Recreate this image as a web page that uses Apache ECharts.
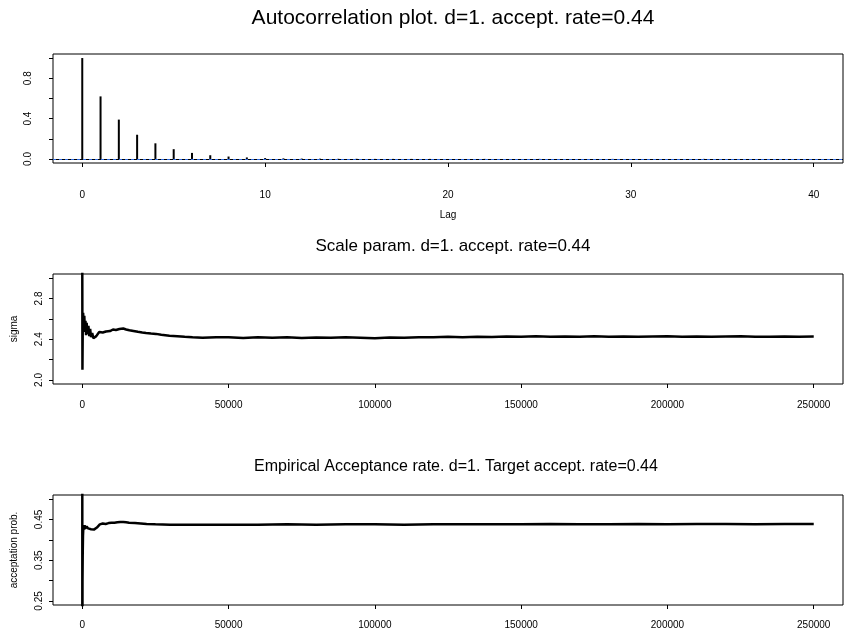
<!DOCTYPE html>
<html lang="en">
<head>
    <meta charset="utf-8">
    <title>MCMC diagnostics</title>
    <script src="https://cdn.jsdelivr.net/npm/echarts@6/dist/echarts.min.js"></script>
    <style>
        html, body { margin: 0; padding: 0; background: #fff; }
        #main { width: 846px; height: 635px; }
    </style>
</head>
<body>
<div id="main"></div>
<script type="text/javascript">
    // autocorrelation (lag 0..40)
    var acfLag = [0, 1, 2, 3, 4, 5, 6, 7, 8, 9, 10, 11, 12, 13, 14, 15, 16, 17, 18, 19, 20,
        21, 22, 23, 24, 25, 26, 27, 28, 29, 30, 31, 32, 33, 34, 35, 36, 37, 38, 39, 40];
    var acfVal = [1.0, 0.62, 0.39, 0.24, 0.155, 0.097, 0.06, 0.037, 0.024, 0.015, 0.009,
        0.006, 0.004, 0.003, 0.002, 0.002, 0.001, 0.001, 0.001, 0.001, 0.0,
        0.0, 0.001, 0.0, 0.0, 0.001, 0.0, 0.0, 0.0, 0.001, 0.0,
        0.0, 0.0, 0.0, 0.001, 0.0, 0.0, 0.0, 0.0, 0.0, 0.0];
    var acfCI = 0.004;

    // scale parameter trace
    var sigmaIter = [0, 60, 150, 300, 500, 700, 900, 1100, 1300, 1500, 1800, 2100, 2400, 2700,
        3000, 3400, 3800, 4300, 4800, 5300, 5800, 6400, 7000, 7500, 8100, 8700, 9500, 10500,
        11500, 12700, 14000, 15000, 16100, 17500, 19000, 20500, 21800, 23500, 25200, 27000,
        29800, 32500, 35000, 37700, 41100, 45800, 50000, 55000, 60000, 65000, 70000, 75000,
        80000, 85000, 90000, 95000, 100000, 105000, 110000, 115000, 120000, 125000, 130000,
        135000, 140000, 145000, 150000, 155000, 160000, 165000, 170000, 175000, 180000,
        185000, 190000, 195000, 200000, 205000, 210000, 215000, 220000, 225000, 230000,
        235000, 240000, 245000, 250000];
    var sigmaVal = [3.3, 2.1, 2.45, 2.66, 2.52, 2.63, 2.47, 2.58, 2.44, 2.56, 2.45, 2.53,
        2.43, 2.5, 2.42, 2.46, 2.41, 2.4, 2.43, 2.45, 2.47, 2.48, 2.465, 2.46, 2.475, 2.49,
        2.48, 2.495, 2.49, 2.5, 2.505, 2.495, 2.487, 2.48, 2.472, 2.465, 2.46, 2.455, 2.452,
        2.443, 2.433, 2.43, 2.425, 2.42, 2.415, 2.42, 2.418, 2.412, 2.42, 2.415, 2.418, 2.412,
        2.416, 2.414, 2.419, 2.415, 2.41, 2.416, 2.414, 2.418, 2.42, 2.423, 2.42, 2.425,
        2.422, 2.426, 2.424, 2.428, 2.423, 2.426, 2.425, 2.428, 2.424, 2.427, 2.423, 2.426,
        2.428, 2.425, 2.427, 2.424, 2.426, 2.428, 2.425, 2.424, 2.426, 2.425, 2.426];

    // empirical acceptance rate trace
    var accIter = [0, 30, 80, 150, 250, 400, 600, 800, 1000, 1500, 2000, 2500, 3000, 3500,
        4000, 4500, 5000, 5500, 6000, 7000, 8000, 9000, 10000, 11000, 12000, 13000, 14000,
        15000, 16000, 18000, 20000, 22000, 25000, 30000, 35000, 40000, 50000, 60000, 70000,
        80000, 90000, 100000, 110000, 120000, 130000, 140000, 150000, 160000, 170000,
        180000, 190000, 200000, 210000, 220000, 230000, 240000, 250000];
    var accVal = [1.0, 0.0, 0.3, 0.36, 0.41, 0.435, 0.425, 0.436, 0.428, 0.433, 0.428,
        0.431, 0.426, 0.428, 0.425, 0.427, 0.43, 0.434, 0.438, 0.44, 0.439, 0.441, 0.442,
        0.442, 0.443, 0.444, 0.444, 0.443, 0.442, 0.441, 0.44, 0.439, 0.438, 0.437, 0.437,
        0.437, 0.437, 0.437, 0.438, 0.437, 0.438, 0.438, 0.437, 0.438, 0.438, 0.438, 0.438,
        0.439, 0.438, 0.438, 0.439, 0.438, 0.439, 0.439, 0.438, 0.439, 0.439];

    var lagTicks = [0, 10, 20, 30, 40];
    var iterTicks = [0, 50000, 100000, 150000, 200000, 250000];
    var acfTicks = [0, 0.2, 0.4, 0.6, 0.8, 1.0];
    var acfLabels = [0, 0.4, 0.8];
    var sigmaTicks = [2.0, 2.2, 2.4, 2.6, 2.8, 3.0];
    var sigmaLabels = [2.0, 2.4, 2.8];
    var accTicks = [0.25, 0.3, 0.35, 0.4, 0.45, 0.5];
    var accLabels = [0.25, 0.35, 0.45];

    var FONT = 'Liberation Sans, Arial, sans-serif';

    function zip(xs, ys) {
        return xs.map(function (x, i) { return [x, ys[i]]; });
    }

    function xAxisCfg(idx, min, max, ticks, margin, name) {
        return {
            type: 'value', gridIndex: idx, min: min, max: max,
            name: name || '', nameLocation: 'middle', nameGap: 47,
            nameTextStyle: { fontFamily: FONT, fontSize: 10, color: '#000' },
            splitLine: { show: false },
            axisLine: { show: false, onZero: false },
            axisTick: { show: true, inside: false, length: 4, customValues: ticks,
                lineStyle: { color: '#000', width: 1 } },
            axisLabel: { customValues: ticks, margin: margin, fontFamily: FONT,
                fontSize: 10, color: '#000',
                formatter: function (v) { return String(v); } }
        };
    }

    function yAxisCfg(idx, min, max, ticks, labels, digits, margin, name) {
        return {
            type: 'value', gridIndex: idx, min: min, max: max,
            name: name || '', nameLocation: 'middle', nameGap: 34, nameRotate: 90,
            nameTextStyle: { fontFamily: FONT, fontSize: 10, color: '#000' },
            splitLine: { show: false },
            axisLine: { show: false, onZero: false },
            axisTick: { show: true, inside: false, length: 4, customValues: ticks,
                lineStyle: { color: '#000', width: 1 } },
            axisLabel: { customValues: labels, rotate: 90, margin: margin, fontFamily: FONT,
                fontSize: 10, color: '#000',
                formatter: function (v) { return v.toFixed(digits); } }
        };
    }

    function titleStyle(size) {
        return { fontFamily: FONT, fontSize: size, fontWeight: 'normal', color: '#000' };
    }

    var myChart = echarts.init(document.getElementById('main'));
    var option = {
        animation: false,
        backgroundColor: '#fff',
        title: [
            { text: 'Autocorrelation plot. d=1. accept. rate=0.44', left: 448, top: 3,
                textAlign: 'center', textStyle: titleStyle(21) },
            { text: 'Scale param. d=1. accept. rate=0.44', left: 448, top: 233,
                textAlign: 'center', textStyle: titleStyle(17) },
            { text: 'Empirical Acceptance rate. d=1. Target accept. rate=0.44', left: 451, top: 454,
                textAlign: 'center', textStyle: titleStyle(16) }
        ],
        grid: [
            { left: 53, top: 54, width: 790, height: 109, show: true, borderColor: '#000', borderWidth: 1 },
            { left: 53, top: 274, width: 790, height: 110, show: true, borderColor: '#000', borderWidth: 1 },
            { left: 53, top: 495, width: 790, height: 110, show: true, borderColor: '#000', borderWidth: 1 }
        ],
        xAxis: [
            xAxisCfg(0, -1.6, 41.6, lagTicks, 27, 'Lag'),
            xAxisCfg(1, -10000, 260000, iterTicks, 16),
            xAxisCfg(2, -10000, 260000, iterTicks, 15)
        ],
        yAxis: [
            yAxisCfg(0, -0.04, 1.04, acfTicks, acfLabels, 1, 20),
            yAxisCfg(1, 1.96, 3.04, sigmaTicks, sigmaLabels, 1, 9, 'sigma'),
            yAxisCfg(2, 0.24, 0.51, accTicks, accLabels, 2, 9, 'acceptation prob.')
        ],
        series: [
            {
                type: 'bar', xAxisIndex: 0, yAxisIndex: 0, barWidth: 2, z: 2,
                itemStyle: { color: '#000' },
                data: zip(acfLag, acfVal),
                markLine: {
                    silent: true, symbol: 'none', label: { show: false },
                    data: [
                        { yAxis: 0, lineStyle: { color: '#000', width: 1, type: 'solid' } }
                    ]
                }
            },
            {
                // confidence band lines drawn on top of the zero line
                type: 'line', xAxisIndex: 0, yAxisIndex: 0, z: 5, data: [],
                markLine: {
                    silent: true, symbol: 'none', label: { show: false }, z: 5,
                    data: [
                        { yAxis: acfCI, lineStyle: { color: '#2f6ae0', width: 1, type: [3, 3] } },
                        { yAxis: -acfCI, lineStyle: { color: '#2f6ae0', width: 1, type: [3, 3] } }
                    ]
                }
            },
            {
                type: 'line', xAxisIndex: 1, yAxisIndex: 1, showSymbol: false,
                lineStyle: { color: '#000', width: 2.5 },
                data: zip(sigmaIter, sigmaVal)
            },
            {
                type: 'line', xAxisIndex: 2, yAxisIndex: 2, showSymbol: false,
                lineStyle: { color: '#000', width: 2.5 },
                data: zip(accIter, accVal)
            }
        ]
    };
    myChart.setOption(option);
</script>
</body>
</html>
